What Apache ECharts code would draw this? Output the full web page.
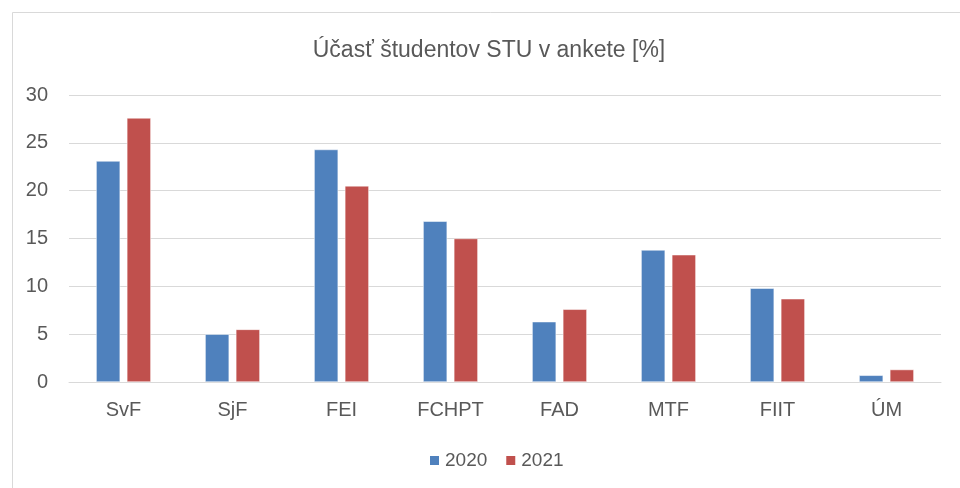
<!DOCTYPE html>
<html>
<head>
<meta charset="utf-8">
<script src="https://cdn.jsdelivr.net/npm/echarts@6/dist/echarts.min.js"></script>
<style>html,body{margin:0;padding:0;background:#fff;overflow:hidden;width:960px;height:488px;position:relative}#c{position:absolute;left:10px;top:0;width:958px;height:488px}</style>
</head>
<body>
<div id="c"></div>
<script>
const categories = ['SvF', 'SjF', 'FEI', 'FCHPT', 'FAD', 'MTF', 'FIIT', 'ÚM'];
const values2020 = [23.1, 5.0, 24.3, 16.8, 6.3, 13.8, 9.8, 0.7];
const values2021 = [27.6, 5.5, 20.5, 15.0, 7.6, 13.3, 8.7, 1.3];
const seriesNames = ['2020', '2021'];
const titleText = 'Účasť študentov STU v ankete [%]';

const FONT = '"Liberation Sans", Arial, sans-serif';
const TXT = '#595959';
const chart = echarts.init(document.getElementById('c'), null, {renderer: 'canvas'});
chart.setOption({
  animation: false,
  backgroundColor: '#fff',
  graphic: [{
    type: 'rect', left: 0, top: 10, silent: true,
    shape: {x: 0.5, y: 0.5, width: 980, height: 500},
    style: {fill: 'none', stroke: '#d9d9d9', lineWidth: 1}
  }],
  title: {
    text: titleText, left: 'center', top: 34,
    textStyle: {color: TXT, fontFamily: FONT, fontWeight: 'normal', fontSize: 23}
  },
  legend: {
    data: seriesNames, top: 451, left: 418, padding: 0,
    itemWidth: 11, itemHeight: 11, itemGap: 17, icon: 'rect',
    textStyle: {color: TXT, fontFamily: FONT, fontSize: 19}
  },
  grid: {left: 59, right: 27, top: 95, bottom: 106, containLabel: false},
  xAxis: {
    type: 'category', data: categories,
    axisLine: {lineStyle: {color: '#d9d9d9', width: 1}},
    axisTick: {show: false},
    axisLabel: {color: TXT, fontFamily: FONT, fontSize: 20, margin: 18}
  },
  yAxis: {
    type: 'value', min: 0, max: 30, interval: 5,
    axisLine: {show: false}, axisTick: {show: false},
    splitLine: {lineStyle: {color: '#d9d9d9', width: 1}},
    axisLabel: {color: TXT, fontFamily: FONT, fontSize: 20, margin: 21}
  },
  series: [
    {name: seriesNames[0], type: 'bar', data: values2020, barWidth: 24, barGap: '28%',
     itemStyle: {color: '#4f81bd', borderColor: '#fff', borderWidth: 0.5}},
    {name: seriesNames[1], type: 'bar', data: values2021, barWidth: 24, barGap: '28%',
     itemStyle: {color: '#c0504d', borderColor: '#fff', borderWidth: 0.5}}
  ]
});
</script>
</body>
</html>
